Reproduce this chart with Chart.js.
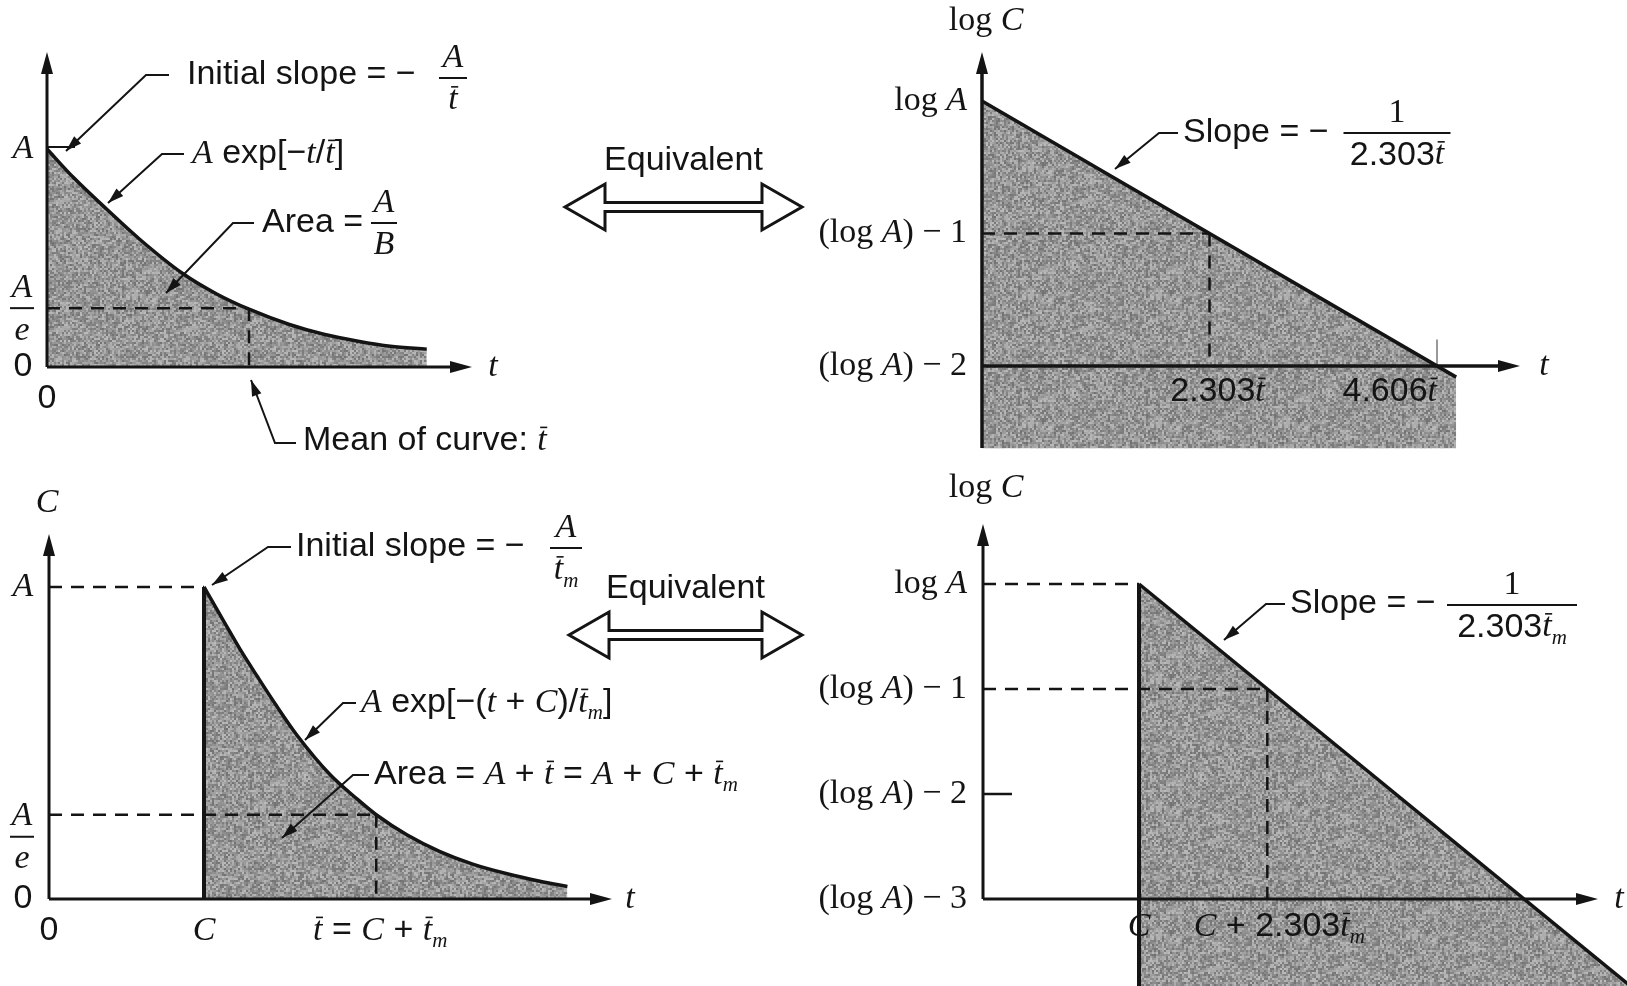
<!DOCTYPE html>
<html>
<head>
<meta charset="utf-8">
<title>Exponential decay and its semilog form</title>
<script src="https://cdn.jsdelivr.net/npm/chart.js@4.4.1/dist/chart.umd.min.js"></script>
<style>
  html, body { margin: 0; background: #fff; overflow: hidden; }
  canvas { position: absolute; left: 0; top: 0; }
</style>
</head>
<body>
<canvas id="decay" width="1627" height="986"></canvas>
<canvas id="decayLog" width="1627" height="986"></canvas>
<canvas id="delay" width="1627" height="986"></canvas>
<canvas id="delayLog" width="1627" height="986"></canvas>
<script>
const W = 1627, H = 986;

// decay curve: t in units of the mean t̄, C in units of A
const decayT = [0, 0.13, 0.30, 0.46, 0.67, 0.84, 1.0, 1.2, 1.37, 1.54, 1.7, 1.88];
const decayC = [1.0, 0.87, 0.72, 0.585, 0.43, 0.335, 0.265, 0.195, 0.15, 0.118, 0.095, 0.082];
const meanT = 1.0;
const levelAe = 0.27;

// same decay on a log scale: log C - log A against t/t̄
const logTicks = [0, -1, -2];
const logLabels = ['log A', '(log A) − 1', '(log A) − 2'];
const slopeT = [0, 4.8];
const slopeLog = [0, -2.084];
const marksT = [2.303, 4.606];

// delayed decay: t in units of t̄m, curve starts at C
const delayC = 0.9;
const tailT = [0.9, 1.01, 1.11, 1.21, 1.32, 1.44, 1.63, 1.79, 1.9, 2.08, 2.27, 2.46, 2.66, 2.85, 3.01];
const tailC = [1.0, 0.895, 0.80, 0.713, 0.62, 0.525, 0.40, 0.32, 0.27, 0.205, 0.152, 0.112, 0.081, 0.057, 0.04];
const tailMean = 1.9;
const tailAe = 0.27;

// delayed decay on a log scale
const delayLogTicks = [0, -1, -2, -3];
const delayLogLabels = ['log A', '(log A) − 1', '(log A) − 2', '(log A) − 3'];
const delayLogC = 2.8;
const delaySlopeT = [2.8, 11.6];
const delaySlopeLog = [0, -3.82];
const delayMark = 5.103;

const INK = '#141414';
const SANS = '"Liberation Sans", Arial, sans-serif';
const SERIF = '"Liberation Serif", "Times New Roman", serif';
const FS = 34;

// text pieces: plain sans, roman serif, italic, italic with overbar, subscript
const P = t => ({t});
const R = t => ({t, serif: true});
const I = t => ({t, it: true});
const B = t => ({t, it: true, bar: true});
const S = t => ({t, it: true, sub: true});

function fontOf(s, size) {
  const sz = s.sub ? Math.round(size * 0.62) : size;
  if (s.it) return `italic ${sz}px ${SERIF}`;
  return `${sz}px ${s.serif ? SERIF : SANS}`;
}

function rich(ctx, x, y, segs, align = 'left', size = FS) {
  let w = 0;
  for (const s of segs) { ctx.font = fontOf(s, size); w += ctx.measureText(s.t).width; }
  let cx = align === 'center' ? x - w / 2 : align === 'right' ? x - w : x;
  ctx.textAlign = 'left';
  ctx.textBaseline = 'middle';
  ctx.fillStyle = INK;
  for (const s of segs) {
    ctx.font = fontOf(s, size);
    const sw = ctx.measureText(s.t).width;
    const yy = s.sub ? y + size * 0.32 : y;
    ctx.fillText(s.t, cx, yy);
    if (s.bar) {
      ctx.strokeStyle = INK;
      ctx.lineWidth = 1.6;
      ctx.beginPath();
      ctx.moveTo(cx + sw * 0.3, yy - size * 0.4);
      ctx.lineTo(cx + sw * 1.05, yy - size * 0.4);
      ctx.stroke();
    }
    cx += sw;
  }
  return w;
}

function serifLabel(str) {
  return str.split(/(A)/).filter(Boolean).map(p => p === 'A' ? I('A') : R(p));
}

function frac(ctx, cx, yBar, num, den, w, size = FS) {
  rich(ctx, cx, yBar - size * 0.6, num, 'center', size);
  rich(ctx, cx, yBar + size * 0.66, den, 'center', size);
  ctx.strokeStyle = INK;
  ctx.lineWidth = 2;
  ctx.beginPath();
  ctx.moveTo(cx - w / 2, yBar);
  ctx.lineTo(cx + w / 2, yBar);
  ctx.stroke();
}

function head(ctx, x, y, ang, len, half) {
  ctx.save();
  ctx.translate(x, y);
  ctx.rotate(ang);
  ctx.fillStyle = INK;
  ctx.beginPath();
  ctx.moveTo(0, 0);
  ctx.lineTo(-len, -half);
  ctx.lineTo(-len, half);
  ctx.closePath();
  ctx.fill();
  ctx.restore();
}

function seg(ctx, x0, y0, x1, y1, lw = 2) {
  ctx.strokeStyle = INK;
  ctx.lineWidth = lw;
  ctx.beginPath();
  ctx.moveTo(x0, y0);
  ctx.lineTo(x1, y1);
  ctx.stroke();
}

// callout line with an arrow at its last point
function leader(ctx, pts) {
  ctx.strokeStyle = INK;
  ctx.lineWidth = 2;
  ctx.beginPath();
  pts.forEach(([px, py], i) => i ? ctx.lineTo(px, py) : ctx.moveTo(px, py));
  ctx.stroke();
  const [ax, ay] = pts[pts.length - 2], [bx, by] = pts[pts.length - 1];
  head(ctx, bx, by, Math.atan2(by - ay, bx - ax), 16, 5);
}

function axes(ctx, ox, oy, yLow, xTip, yTip, lw = 3) {
  seg(ctx, ox, oy, xTip - 10, oy, lw);
  head(ctx, xTip, oy, 0, 22, 6);
  seg(ctx, ox, yLow, ox, yTip + 10, lw);
  head(ctx, ox, yTip, -Math.PI / 2, 22, 6);
}

// hollow double arrow between the linear and log panels
function equivalent(ctx, x0, x1, yc, ty) {
  rich(ctx, (x0 + x1) / 2, ty, [P('Equivalent')], 'center');
  const hw = 40, hh = 23, g = 4.5;
  ctx.strokeStyle = INK;
  ctx.lineWidth = 3;
  ctx.beginPath();
  ctx.moveTo(x0 + hw, yc - g); ctx.lineTo(x0 + hw, yc - hh); ctx.lineTo(x0, yc);
  ctx.lineTo(x0 + hw, yc + hh); ctx.lineTo(x0 + hw, yc + g);
  ctx.lineTo(x1 - hw, yc + g); ctx.lineTo(x1 - hw, yc + hh); ctx.lineTo(x1, yc);
  ctx.lineTo(x1 - hw, yc - hh); ctx.lineTo(x1 - hw, yc - g);
  ctx.closePath();
  ctx.stroke();
}

// stippled grey used for the shaded areas
function grain() {
  const n = 128, c = document.createElement('canvas');
  c.width = c.height = n;
  const g = c.getContext('2d');
  let s = 0x2f6b1d3;
  for (let yy = 0; yy < n; yy += 2) {
    for (let xx = 0; xx < n; xx += 2) {
      s ^= s << 13; s ^= s >>> 17; s ^= s << 5; s >>>= 0;
      const v = 114 + (s % 74);
      g.fillStyle = `rgb(${v},${v},${v})`;
      g.fillRect(xx, yy, 2, 2);
    }
  }
  return g.createPattern(c, 'repeat');
}
const GRAIN = grain();

// value range covering the whole canvas, from two pixel/value anchors
function span(p0, v0, p1, v1, size) {
  const k = (v1 - v0) / (p1 - p0);
  return [v0 - p0 * k, v0 + (size - p0) * k];
}

const pts = (xs, ys) => xs.map((v, i) => ({x: v, y: ys[i]}));
const solid = (data, w = 3) => ({data, borderColor: INK, borderWidth: w, fill: false});
const dashed = data => ({data, borderColor: INK, borderWidth: 2.5, borderDash: [13, 9], fill: false});

function plot(id, xs, ys, datasets, draw) {
  return new Chart(document.getElementById(id), {
    type: 'line',
    data: {datasets},
    options: {
      responsive: false,
      animation: false,
      devicePixelRatio: 1,
      events: [],
      layout: {padding: 0},
      scales: {
        x: {type: 'linear', display: false, min: xs[0], max: xs[1]},
        y: {type: 'linear', display: false, min: ys[1], max: ys[0]}
      },
      plugins: {
        legend: {display: false},
        tooltip: {enabled: false},
        filler: {drawTime: 'beforeDatasetsDraw'}
      },
      elements: {point: {radius: 0, hoverRadius: 0}, line: {tension: 0}}
    },
    plugins: [{id: id + 'Notes', afterDatasetsDraw: draw}]
  });
}

// top left: C against t
plot('decay', span(47, 0, 249, 1, W), span(149, 1, 367, 0, H), [
  {data: pts(decayT, decayC), borderColor: INK, borderWidth: 3.5, cubicInterpolationMode: 'monotone',
   fill: 'origin', backgroundColor: GRAIN},
  dashed([{x: 0, y: levelAe}, {x: meanT, y: levelAe}]),
  dashed([{x: meanT, y: levelAe}, {x: meanT, y: 0}])
], chart => {
  const {ctx, scales: {x, y}} = chart;
  const ox = x.getPixelForValue(0), oy = y.getPixelForValue(0), yA = y.getPixelForValue(1);
  ctx.save();
  axes(ctx, ox, oy, oy, 472, 52);
  rich(ctx, 23, yA, [I('A')], 'center');
  frac(ctx, 22, y.getPixelForValue(levelAe), [I('A')], [I('e')], 24);
  rich(ctx, 23, oy, [P('0')], 'center');
  rich(ctx, ox, 399, [P('0')], 'center');
  rich(ctx, 493, oy, [I('t')], 'center');
  seg(ctx, ox, yA - 2, ox + 28, yA - 2);
  rich(ctx, 187, 75, [P('Initial slope = −')]);
  frac(ctx, 453, 78, [I('A')], [B('t')], 28);
  leader(ctx, [[169, 75], [146, 75], [66, 151]]);
  rich(ctx, 192, 154, [I('A'), P(' exp[−'), I('t'), P('/'), B('t'), P(']')]);
  leader(ctx, [[184, 154], [162, 154], [108, 203]]);
  rich(ctx, 262, 223, [P('Area = ')]);
  frac(ctx, 384, 223, [I('A')], [I('B')], 26);
  leader(ctx, [[254, 223], [233, 223], [166, 293]]);
  rich(ctx, 303, 441, [P('Mean of curve: '), B('t')]);
  leader(ctx, [[296, 443], [275, 443], [251, 380]]);
  equivalent(ctx, 565, 802, 207, 161);
  ctx.restore();
});

// top right: log C against t
plot('decayLog', span(982, 0, 1437, 4.606, W), span(101, 0, 366, -2, H), [
  {data: pts(slopeT, slopeLog), borderColor: INK, borderWidth: 3.5, fill: {value: -2.62}, backgroundColor: GRAIN},
  dashed([{x: 0, y: -1}, {x: marksT[0], y: -1}]),
  dashed([{x: marksT[0], y: -1}, {x: marksT[0], y: -2}]),
  {data: [{x: marksT[1], y: -2}, {x: marksT[1], y: -1.8}], borderColor: '#777', borderWidth: 1.5, fill: false}
], chart => {
  const {ctx, scales: {x, y}} = chart;
  const ox = x.getPixelForValue(0), oy = y.getPixelForValue(-2);
  ctx.save();
  axes(ctx, ox, oy, 448, 1520, 52, 3.5);
  logTicks.forEach((v, i) => rich(ctx, 967, y.getPixelForValue(v), serifLabel(logLabels[i]), 'right'));
  rich(ctx, 986, 21, [R('log '), I('C')], 'center');
  rich(ctx, 1544, oy, [I('t')], 'center');
  rich(ctx, x.getPixelForValue(marksT[0]) + 8, 392, [P('2.303'), B('t')], 'center');
  rich(ctx, x.getPixelForValue(marksT[1]), 392, [P('4.606'), B('t')], 'right');
  rich(ctx, 1183, 133, [P('Slope = −')]);
  frac(ctx, 1397, 133, [R('1')], [P('2.303'), B('t')], 107);
  leader(ctx, [[1178, 133], [1159, 133], [1115, 169]]);
  ctx.restore();
});

// bottom left: delayed decay
plot('delay', span(49, 0, 204, delayC, W), span(587, 1, 899, 0, H), [
  {data: pts(tailT, tailC), borderColor: INK, borderWidth: 3.5, cubicInterpolationMode: 'monotone',
   fill: 'origin', backgroundColor: GRAIN},
  solid([{x: delayC, y: 0}, {x: delayC, y: 1}], 4),
  dashed([{x: 0, y: 1}, {x: delayC, y: 1}]),
  dashed([{x: 0, y: tailAe}, {x: tailMean, y: tailAe}]),
  dashed([{x: tailMean, y: tailAe}, {x: tailMean, y: 0}])
], chart => {
  const {ctx, scales: {x, y}} = chart;
  const ox = x.getPixelForValue(0), oy = y.getPixelForValue(0);
  ctx.save();
  axes(ctx, ox, oy, oy, 612, 534);
  rich(ctx, 47, 503, [I('C')], 'center');
  rich(ctx, 23, y.getPixelForValue(1), [I('A')], 'center');
  frac(ctx, 22, y.getPixelForValue(tailAe) + 22, [I('A')], [I('e')], 24);
  rich(ctx, 23, oy, [P('0')], 'center');
  rich(ctx, ox, 931, [P('0')], 'center');
  rich(ctx, x.getPixelForValue(delayC), 931, [I('C')], 'center');
  rich(ctx, x.getPixelForValue(tailMean) + 4, 931, [B('t'), P(' = '), I('C'), P(' + '), B('t'), S('m')], 'center');
  rich(ctx, 630, oy, [I('t')], 'center');
  rich(ctx, 296, 547, [P('Initial slope = −')]);
  frac(ctx, 566, 548, [I('A')], [B('t'), S('m')], 32);
  leader(ctx, [[291, 547], [268, 547], [212, 585]]);
  rich(ctx, 361, 703, [I('A'), P(' exp[−('), I('t'), P(' + '), I('C'), P(')/'), B('t'), S('m'), P(']')]);
  leader(ctx, [[356, 703], [343, 703], [305, 740]]);
  rich(ctx, 374, 775, [P('Area = '), I('A'), P(' + '), B('t'), P(' = '), I('A'), P(' + '), I('C'), P(' + '), B('t'), S('m')]);
  leader(ctx, [[369, 775], [353, 775], [282, 838]]);
  equivalent(ctx, 569, 802, 635, 589);
  ctx.restore();
});

// bottom right: delayed decay on a log scale
plot('delayLog', span(983, 0, 1139, delayLogC, W), span(584, 0, 899, -3, H), [
  {data: pts(delaySlopeT, delaySlopeLog), borderColor: INK, borderWidth: 3.5, fill: {value: -4.6}, backgroundColor: GRAIN},
  solid([{x: delayLogC, y: 0}, {x: delayLogC, y: -4.6}], 4),
  dashed([{x: 0, y: 0}, {x: delayLogC, y: 0}]),
  dashed([{x: 0, y: -1}, {x: delayMark, y: -1}]),
  dashed([{x: delayMark, y: -1}, {x: delayMark, y: -3}]),
  solid([{x: 0, y: -2}, {x: 0.52, y: -2}], 2.5)
], chart => {
  const {ctx, scales: {x, y}} = chart;
  const ox = x.getPixelForValue(0), oy = y.getPixelForValue(-3);
  ctx.save();
  axes(ctx, ox, oy, oy, 1598, 524);
  delayLogTicks.forEach((v, i) => rich(ctx, 967, y.getPixelForValue(v), serifLabel(delayLogLabels[i]), 'right'));
  rich(ctx, 986, 488, [R('log '), I('C')], 'center');
  rich(ctx, 1619, oy, [I('t')], 'center');
  rich(ctx, x.getPixelForValue(delayLogC), 927, [I('C')], 'center');
  rich(ctx, x.getPixelForValue(delayMark) + 12, 927, [I('C'), P(' + 2.303'), B('t'), S('m')], 'center');
  rich(ctx, 1290, 604, [P('Slope = −')]);
  frac(ctx, 1512, 605, [R('1')], [P('2.303'), B('t'), S('m')], 130);
  leader(ctx, [[1285, 604], [1266, 604], [1224, 640]]);
  ctx.restore();
});
</script>
</body>
</html>
